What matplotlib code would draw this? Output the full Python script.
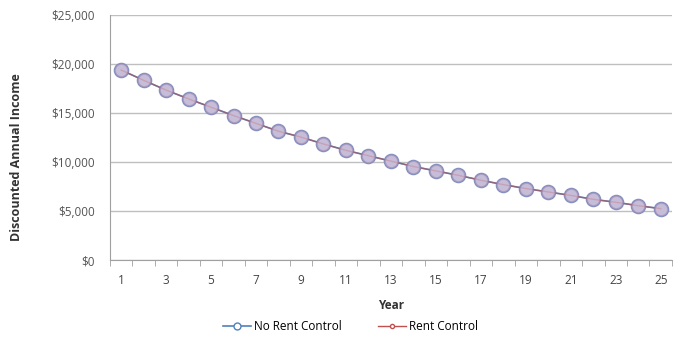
import numpy as np
import matplotlib
matplotlib.use("Agg")
import matplotlib.pyplot as plt
from matplotlib.ticker import FuncFormatter

# values
years = list(range(1, 26))
no_rent_control = [19400, 18350, 17350, 16450, 15600, 14750, 13950, 13150, 12550, 11850,
                   11200, 10650, 10100, 9550, 9100, 8650, 8150, 7700, 7300, 6950,
                   6600, 6200, 5900, 5550, 5250]
rent_control = [19400, 18350, 17350, 16450, 15600, 14750, 13950, 13150, 12550, 11850,
                11200, 10650, 10100, 9550, 9100, 8650, 8150, 7700, 7300, 6950,
                6600, 6200, 5900, 5550, 5250]
y_ticks = [0, 5000, 10000, 15000, 20000, 25000]

plt.rcParams['font.family'] = ['Open Sans', 'DejaVu Sans']

fig = plt.figure(figsize=(6.74, 3.44), dpi=100)
ax = fig.add_axes([0.163, 0.244, 0.834, 0.712])

ax.plot(years, no_rent_control, color='#4F81BD', lw=1.2, marker='o', ms=10,
        mfc='#BCC4DE', mec='#8090C0', mew=1.2, label='No Rent Control', zorder=3)
ax.plot(years, rent_control, color='#C0504D', lw=1.0, marker='o', ms=9,
        mfc='#CDB9D6', mec='#A890B8', mew=1.0, alpha=0.6, label='Rent Control', zorder=4)

ax.set_xlim(0.5, 25.5)
ax.set_ylim(0, 25000)
ax.set_yticks(y_ticks)
ax.yaxis.set_major_formatter(FuncFormatter(lambda v, p: '${:,.0f}'.format(v)))
ax.set_xticks(years[::2])
ax.set_xticks(np.arange(0.5, 26, 1), minor=True)
ax.tick_params(axis='x', which='major', length=0, pad=10, labelsize=8.5, colors='#444444')
ax.tick_params(axis='x', which='minor', length=4, color='#A0A0A0', direction='out')
ax.tick_params(axis='y', length=0, pad=11, labelsize=8.5, colors='#555555')

ax.grid(axis='y', color='#BFBFBF', lw=1)
ax.set_axisbelow(True)
for s in ['top', 'right']:
    ax.spines[s].set_visible(False)
ax.spines['left'].set_color('#A0A0A0')
ax.spines['bottom'].set_color('#A0A0A0')

ax.set_xlabel('Year', fontsize=8.5, fontweight='bold', color='#333333', labelpad=9)
ax.set_ylabel('Discounted Annual Income', fontsize=9, fontweight='bold', color='#333333')
ax.yaxis.set_label_coords(-0.155, 0.42)

h1, = ax.plot([], [], color='#4F81BD', lw=1.2, marker='o', ms=5, mfc='white', mec='#4F81BD')
h2, = ax.plot([], [], color='#C0504D', lw=1.0, marker='o', ms=3, mfc='white', mec='#C0504D')
fig.legend([h1, h2], ['No Rent Control', 'Rent Control'], loc='lower center',
           bbox_to_anchor=(0.52, 0.0), ncol=2, frameon=False, fontsize=8.5,
           handlelength=2.4, columnspacing=3.0, handletextpad=0.3)

fig.savefig('out.png', dpi=100)
